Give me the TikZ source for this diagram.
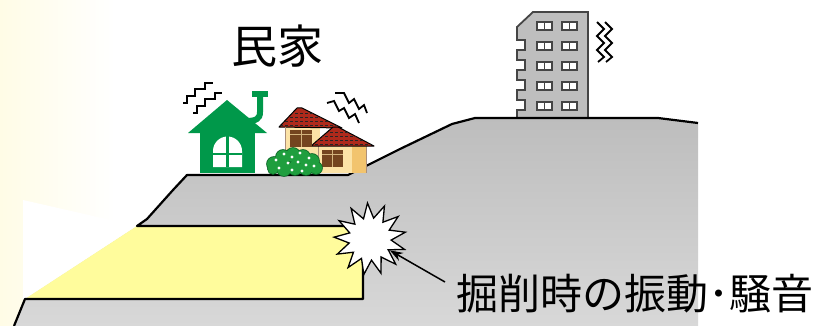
\documentclass[tikz,border=0pt]{standalone}
\usepackage{fontspec}
\newfontfamily\jpfont{Noto Sans CJK JP}
\usepackage{tikz}
\usetikzlibrary{arrows.meta,shapes.geometric}
\definecolor{cream}{HTML}{FFFCE6}
\definecolor{soil}{HTML}{BDBDBD}
\definecolor{soillow}{HTML}{D8D8D8}
\definecolor{cut}{HTML}{FFFC9C}
\definecolor{leaf}{HTML}{00984A}
\definecolor{bushgreen}{HTML}{1F9E3E}
\definecolor{bushedge}{HTML}{0A6426}
\definecolor{wall}{HTML}{FCE3A6}
\definecolor{wallside}{HTML}{F2C46E}
\definecolor{tile}{HTML}{AE2A1C}
\definecolor{frame}{HTML}{74451F}
\definecolor{concrete}{HTML}{BEBEBE}
\definecolor{concreteedge}{HTML}{454545}

\begin{document}
\begin{tikzpicture}[x=1pt,y=-1pt,
  ground/.style={line width=2.2pt,line join=round},
  shake/.style={line width=1.8pt,line join=miter},
  burst/.style={star,star points=13,star point ratio=1.7,minimum size=72pt,
    inner sep=0pt,draw,fill=white,line width=1.3pt},
  roof/.style={fill=tile,draw=black,line width=1pt,line join=round},
  flat/.style={fill=white,draw=concreteedge,line width=1.2pt}]
% background
\fill[white] (0,0) rectangle (821,326);
\shade[left color=cream,right color=white] (0,0) rectangle (115,326);
\useasboundingbox (0,0) rectangle (821,326);

% terraced ground and the cut
\shade[top color=soil,bottom color=soillow] (14,326) -- (25,299) -- (137,226)
  -- (147,219) -- (173,190) -- (187,175) -- (348,175) -- (400,149) -- (452,124)
  -- (475,118) -- (658,118) -- (698,123) -- (698,326) -- cycle;
\fill[white] (23,200) -- (137,226) -- (25,299) -- (23,299) -- cycle;
\fill[cut] (25,299) -- (137,226) -- (363,226) -- (363,299) -- cycle;

% tall building on the hill
\filldraw[fill=concrete,draw=concreteedge,line width=1.8pt,line join=miter]
  (517,118) -- (517,110) -- (525,110) -- (525,100) -- (517,100) -- (517,90)
  -- (525,90) -- (525,80) -- (517,80) -- (517,70) -- (525,70) -- (525,60)
  -- (517,60) -- (517,50) -- (525,50) -- (525,40) -- (517,40) -- (517,27)
  -- (533,12) -- (588,12) -- (588,118) -- cycle;
\foreach \r in {0,...,4}
  \foreach \c in {0,1}{
    \filldraw[flat] (537+25*\c,22+20*\r) rectangle ++(15,8);
    \draw[concreteedge,line width=1.2pt] (544.5+25*\c,22+20*\r) -- ++(0,8);
  }

\draw[ground] (14,326) -- (25,299) -- (363,299) -- (363,262);
\draw[ground] (363,226) -- (137,226) -- (147,219) -- (173,190) -- (187,175)
  -- (348,175) -- (400,149) -- (452,124) -- (475,118) -- (658,118) -- (698,123);

% green house
\fill[leaf] (188,133) -- (227,100) -- (267,133) -- cycle;
\fill[leaf] (200,132) rectangle (255,173);
\draw[leaf,line width=6pt] (260,95) -- (260,112) .. controls (260,119) and (256,121) .. (246,121);
\fill[leaf] (252,91) rectangle (268,97);
\fill[white] (213,167) -- (213,151) arc[start angle=180,end angle=360,radius=14.5] -- (242,167) -- cycle;
\draw[leaf,line width=2.5pt] (227.5,135) -- (227.5,167) (213,154) -- (242,154);

% beige house
\fill[wall] (285,126) rectangle (320,173);
\filldraw[roof] (279,127) -- (297,108) -- (302,108) -- (342,128) -- cycle;
\begin{scope}
  \clip (279,127) -- (297,108) -- (302,108) -- (342,128) -- cycle;
  \foreach \yy in {113,117,...,125}
    \draw[black!85,line width=0.9pt,dash pattern=on 3pt off 2pt] (270,\yy) -- (345,\yy);
\end{scope}
\fill[wall] (318,145) rectangle (366,173);
\fill[wallside] (352,145) rectangle (366,173);
\draw[frame!60,line width=0.6pt] (285,127) -- (285,173) (318,146) -- (318,173) (366,146) -- (366,173);
\filldraw[roof] (311,146) -- (333,127) -- (338,127) -- (374,146) -- cycle;
\begin{scope}
  \clip (311,146) -- (333,127) -- (338,127) -- (374,146) -- cycle;
  \foreach \yy in {132,136,...,144}
    \draw[black!85,line width=0.9pt,dash pattern=on 3pt off 2pt] (305,\yy) -- (380,\yy);
\end{scope}
\foreach \wx/\wy/\ww/\wh in {290/130/22/17,322/150/21/17}{
  \fill[frame] (\wx,\wy) rectangle ++(\ww,\wh);
  \draw[wall!70!frame,line width=0.8pt] (\wx+\ww/2,\wy) -- ++(0,\wh) (\wx,\wy+4) -- ++(\ww,0);
}

% bush
\foreach \bx/\by/\br in {274/164/7,283/157/7,293/155/7,303/157/7,312/161/7,316/168/6,306/168/7,295/168/7,284/169/7,273/169/5}
  \draw[bushedge,line width=1.6pt] (\bx,\by) circle[radius=\br];
\foreach \bx/\by/\br in {274/164/7,283/157/7,293/155/7,303/157/7,312/161/7,316/168/6,306/168/7,295/168/7,284/169/7,273/169/5}
  \fill[bushgreen] (\bx,\by) circle[radius=\br];
\foreach \dx/\dy in {276/160,284/154,292/157,300/153,309/158,288/163,298/162,306/165,314/166,279/168,292/170,302/171}
  \fill[white] (\dx,\dy) circle[radius=1.7];

% shaking marks
\draw[shake] (183,103) -- (187,103) -- (187,96) -- (195,96) -- (195,89) -- (205,89) -- (205,83) -- (213,83);
\draw[shake] (193,113) -- (197,113) -- (197,106) -- (205,106) -- (205,99) -- (215,99) -- (215,93) -- (222,93);
\draw[shake] (335,93) -- (344,93) -- (349,103) -- (354,99) -- (359,109) -- (364,105) -- (367,113);
\draw[shake] (327,103) -- (334,101) -- (339,111) -- (344,108) -- (349,118) -- (355,114) -- (359,123);
\draw[shake] (597,22) -- (604,29) -- (597,36) -- (604,43) -- (597,50) -- (604,57) -- (598,62);
\draw[shake] (605,22) -- (612,29) -- (605,36) -- (612,43) -- (605,50) -- (612,57) -- (606,62);

% excavation noise
\node[burst,rotate=4] (burst) at (370,239) {};
\node[font=\jpfont\fontsize{42}{46}\selectfont,inner sep=0pt] (noise) at (635,294) {掘削時の振動･騒音};
\coordinate (tail) at (445,282);
\draw[-{Stealth[length=13pt,width=9pt]},line width=1.5pt] (tail) -- (burst);

\node[font=\jpfont\fontsize{46}{50}\selectfont,inner sep=0pt] (minka) at (277,46) {民家};
\end{tikzpicture}
\end{document}
